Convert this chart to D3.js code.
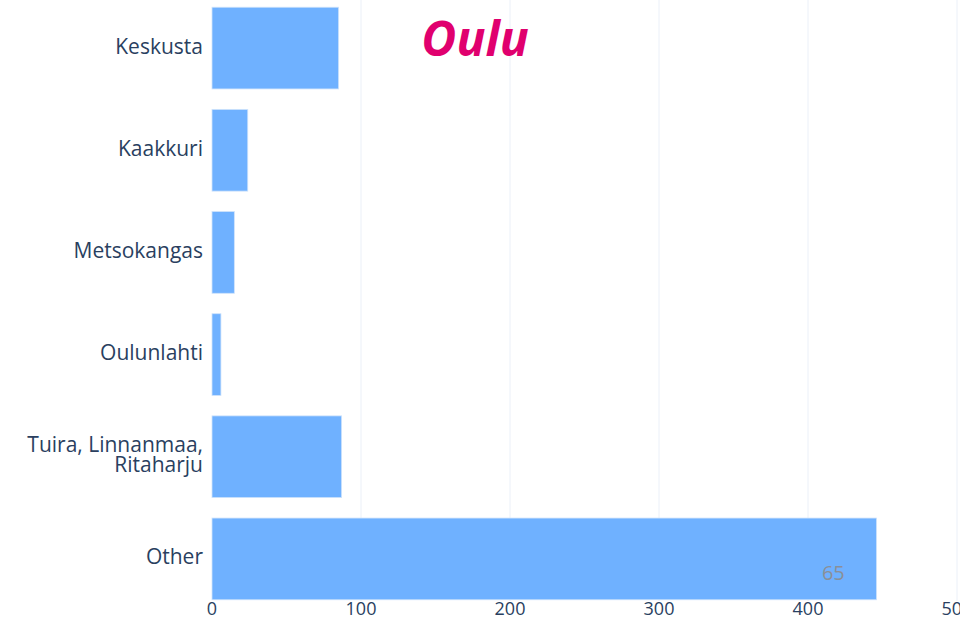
<!DOCTYPE html>
<html>
<head>
<meta charset="utf-8">
<script src="https://cdn.jsdelivr.net/npm/d3@7"></script>
<style>
  body { margin:0; background:#fff; }
  text { font-family: "Open Sans", sans-serif; }
</style>
</head>
<body>
<div id="main"></div>
<script>
// data
var districts = ["Keskusta", "Kaakkuri", "Metsokangas", "Oulunlahti", "Tuira, Linnanmaa,<br>Ritaharju", "Other"];
var counts = [85, 24, 15, 6, 87, 446];
var xTicks = [0, 100, 200, 300, 400, 500];
var title = "Oulu";
var noteText = ["65"];
var noteValue = [417];

var width = 960, height = 620;
var svg = d3.select("#main").append("svg")
    .attr("width", width).attr("height", height);

var x = d3.scaleLinear().domain([0, 500]).range([212, 957]);
var y = d3.scaleBand().domain(districts).range([-3, 610]).paddingInner(0.2).paddingOuter(0.1);

// grid
svg.append("g").selectAll("line")
    .data(xTicks.filter(function(d){ return d > 0; }))
    .enter().append("line")
    .attr("x1", function(d){ return x(d); }).attr("x2", function(d){ return x(d); })
    .attr("y1", 0).attr("y2", 601)
    .attr("stroke", "#ebf0f8").attr("stroke-width", 1);

// bars
svg.append("g").selectAll("rect")
    .data(districts)
    .enter().append("rect")
    .attr("x", x(0))
    .attr("y", function(d){ return y(d); })
    .attr("width", function(d, i){ return x(counts[i]) - x(0); })
    .attr("height", y.bandwidth())
    .attr("fill", "#6fb1ff")
    .attr("stroke", "#cfe3fb").attr("stroke-width", 0.8);

// y labels
var ylab = svg.append("g").selectAll("text")
    .data(districts)
    .enter().append("text")
    .attr("text-anchor", "end")
    .attr("fill", "#2a3f5f")
    .style("font-size", "21px");
ylab.each(function(d){
  var lines = d.split("<br>");
  var t = d3.select(this);
  var cy = y(d) + y.bandwidth() / 2 - 1.5;
  lines.forEach(function(l, j){
    t.append("tspan")
      .attr("x", 203)
      .attr("y", cy + (j - (lines.length - 1) / 2) * 20)
      .attr("dy", "0.33em")
      .text(l);
  });
});

// x axis ticks
svg.append("g").selectAll("text")
    .data(xTicks)
    .enter().append("text")
    .attr("x", function(d){ return x(d); })
    .attr("y", 609).attr("dy", "0.35em")
    .attr("text-anchor", "middle")
    .attr("fill", "#2a3f5f")
    .style("font-size", "18px")
    .text(function(d){ return d; });

// note inside last bar
svg.append("g").selectAll("text")
    .data(noteText)
    .enter().append("text")
    .attr("x", function(d, i){ return x(noteValue[i]); })
    .attr("y", y("Other") + y.bandwidth() / 2 + 14).attr("dy", "0.35em")
    .attr("text-anchor", "middle")
    .attr("fill", "#8a8f98")
    .style("font-size", "20px")
    .text(function(d){ return d; });

// title
svg.append("text")
    .attr("x", 475).attr("y", 56)
    .attr("text-anchor", "middle")
    .attr("fill", "#e0006e")
    .style("font-size", "48px")
    .style("font-weight", "bold")
    .style("font-style", "italic")
    .text(title);
</script>
</body>
</html>
